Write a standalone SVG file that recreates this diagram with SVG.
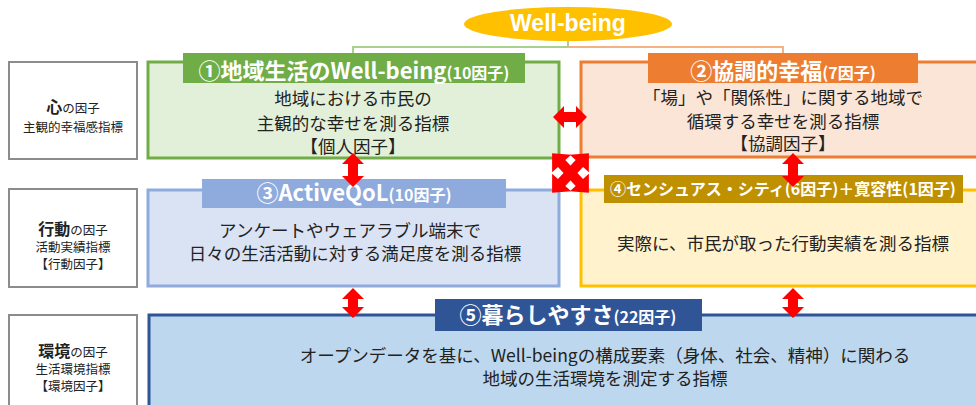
<svg xmlns="http://www.w3.org/2000/svg" width="976" height="405" viewBox="0 0 976 405">
<style>
text{font-family:"Noto Sans CJK JP","Noto Sans",sans-serif;fill:#222;}
.side{fill:#fff;stroke:#8c8c8c;stroke-width:2;}
.sb{font-size:16px;font-weight:bold;}
.ss{font-size:12.5px;}
.body{font-size:17.5px;text-anchor:middle;}
.lbl{fill:#fff;font-weight:bold;text-anchor:middle;}
.big{font-size:22px;}
.sm{font-size:16px;}
.arr{fill:#ff0000;}
.ln{fill:none;stroke-width:2;}
</style>
<rect width="976" height="405" fill="#fff"/>

<g id="connectors">
  <polyline class="ln" points="568,41 568,47 353,47 353,54" stroke="#a9d18e"/>
  <polyline class="ln" points="568,47 783,47 783,54" stroke="#f4b183"/>
</g>

<g id="wellbeing">
  <ellipse cx="568" cy="24" rx="104" ry="17" fill="#ffc000"/>
  <text x="568" y="31" text-anchor="middle" style="font-family:'Liberation Sans',Arial,sans-serif;font-size:23px;font-weight:bold;fill:#fff">Well-being</text>
</g>

<g id="side-kokoro">
  <rect class="side" x="9" y="62" width="128" height="97"/>
  <text x="73" y="113" text-anchor="middle"><tspan class="sb">心</tspan><tspan class="ss">の因子</tspan></text>
  <text x="73" y="132" text-anchor="middle" class="ss">主観的幸福感指標</text>
</g>

<g id="side-kodo">
  <rect class="side" x="9" y="189" width="128" height="98"/>
  <text x="73" y="235" text-anchor="middle"><tspan class="sb">行動</tspan><tspan class="ss">の因子</tspan></text>
  <text x="73" y="252" text-anchor="middle" class="ss">活動実績指標</text>
  <text x="73" y="269" text-anchor="middle" class="ss">【行動因子】</text>
</g>

<g id="side-kankyo">
  <rect class="side" x="9" y="315" width="128" height="100"/>
  <text x="73" y="357" text-anchor="middle"><tspan class="sb">環境</tspan><tspan class="ss">の因子</tspan></text>
  <text x="73" y="374" text-anchor="middle" class="ss">生活環境指標</text>
  <text x="73" y="391" text-anchor="middle" class="ss">【環境因子】</text>
</g>

<g id="node1">
  <rect x="148" y="62" width="411" height="96" fill="#e2f0d9" stroke="#70ad47" stroke-width="3"/>
  <rect x="183" y="53" width="342" height="30" fill="#70ad47"/>
  <text x="354" y="79" class="lbl"><tspan class="big">①地域生活のWell-being</tspan><tspan class="sm">(10因子)</tspan></text>
  <text x="353" y="105" class="body">地域における市民の</text>
  <text x="353" y="130" class="body">主観的な幸せを測る指標</text>
  <text x="353" y="153" class="body">【個人因子】</text>
</g>

<g id="node2">
  <rect x="581" y="62" width="400" height="95" fill="#fbe5d6" stroke="#ed7d31" stroke-width="3"/>
  <rect x="648" y="53" width="270" height="30" fill="#ed7d31"/>
  <text x="783" y="79" class="lbl"><tspan class="big">②協調的幸福</tspan><tspan class="sm">(7因子)</tspan></text>
  <text x="783" y="104" class="body">「場」や「関係性」に関する地域で</text>
  <text x="783" y="128" class="body">循環する幸せを測る指標</text>
  <text x="783" y="150" class="body">【協調因子】</text>
</g>

<g id="node3">
  <rect x="148" y="190" width="411" height="96" fill="#dae3f3" stroke="#8faadc" stroke-width="3"/>
  <rect x="202" y="179" width="304" height="29" fill="#8faadc"/>
  <text x="354" y="201" class="lbl"><tspan class="big">③ActiveQoL</tspan><tspan class="sm">(10因子)</tspan></text>
  <text x="350" y="237" class="body">アンケートやウェアラブル端末で</text>
  <text x="355" y="260" class="body">日々の生活活動に対する満足度を測る指標</text>
</g>

<g id="node4">
  <rect x="581" y="190" width="400" height="96" fill="#fff2cc" stroke="#ffc000" stroke-width="3"/>
  <rect x="604" y="175" width="359" height="28" fill="#bf9000"/>
  <text x="783" y="195" class="lbl" style="font-size:16px">④センシュアス・シティ(6因子)＋寛容性(1因子)</text>
  <text x="783" y="250" class="body">実際に、市民が取った行動実績を測る指標</text>
</g>

<g id="node5">
  <rect x="149" y="315" width="832" height="100" fill="#bdd7ee" stroke="#2f5597" stroke-width="3"/>
  <rect x="435" y="299" width="267" height="32" fill="#2f5597"/>
  <text x="568" y="323" class="lbl"><tspan class="big">⑤暮らしやすさ</tspan><tspan class="sm">(22因子)</tspan></text>
  <text x="605" y="362" class="body">オープンデータを基に、Well-beingの構成要素（身体、社会、精神）に関わる</text>
  <text x="605" y="385" class="body">地域の生活環境を測定する指標</text>
</g>

<g id="arrows">
  <polygon class="arr" points="353,153 364,164 358,164 358,176 364,176 353,187 342,176 348,176 348,164 342,164"/>
  <polygon class="arr" points="353,288 364,299 358,299 358,307 364,307 353,318 342,307 348,307 348,299 342,299"/>
  <polygon class="arr" points="793,153 804,164 798,164 798,176 804,176 793,187 782,176 788,176 788,164 782,164"/>
  <polygon class="arr" points="793,288 804,299 798,299 798,307 804,307 793,318 782,307 788,307 788,299 782,299"/>
  <polygon class="arr" points="553,117 564,106 564,112 576,112 576,106 587,117 576,128 576,122 564,122 564,128"/>
  <g transform="translate(570.5,173)">
    <polygon class="arr" transform="rotate(47)" points="-27,0 -13,-13 -13,-5 13,-5 13,-13 27,0 13,13 13,5 -13,5 -13,13"/>
    <polygon class="arr" transform="rotate(-47)" points="-27,0 -13,-13 -13,-5 13,-5 13,-13 27,0 13,13 13,5 -13,5 -13,13"/>
  </g>
</g>
</svg>
